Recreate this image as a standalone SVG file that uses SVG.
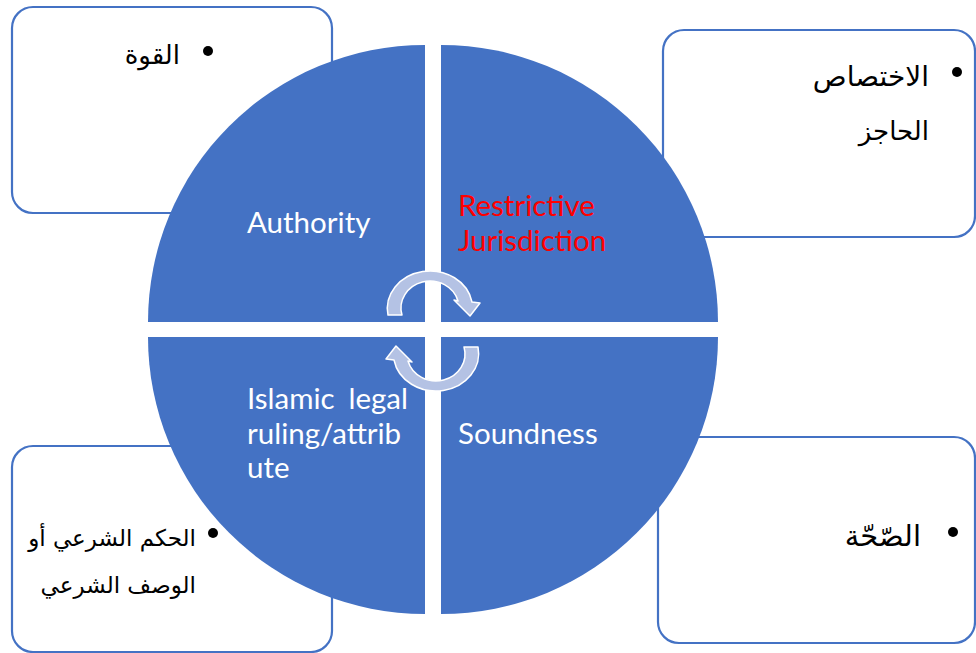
<svg xmlns="http://www.w3.org/2000/svg" width="976" height="653" viewBox="0 0 976 653">
<style>
.box{fill:#ffffff;stroke:#4472C4;stroke-width:2.2}
.quad{fill:#4472C4}
.en{font-family:Lato,"Liberation Sans",sans-serif;font-size:29.5px;fill:#ffffff}
.ar{font-family:"DejaVu Sans","Noto Sans",sans-serif;font-size:26px;fill:#000000}
.ar2{font-family:"DejaVu Sans","Noto Sans",sans-serif;font-size:23px;fill:#000000}
.arrow{fill:#B4C2E4;stroke:#ffffff;stroke-width:1.5;stroke-linejoin:round}
</style>
<rect width="976" height="653" fill="#ffffff"/>
<g id="box-tl"><rect class="box" x="12" y="7" width="320" height="206" rx="21"/><circle cx="208" cy="51" r="5"/><text class="ar" x="180" y="64" text-anchor="end">القوة</text></g>
<g id="box-tr"><rect class="box" x="663" y="30" width="312" height="207" rx="21"/><circle cx="957" cy="72" r="5"/><text class="ar" x="929" y="86" text-anchor="end" style="font-size:28px">الاختصاص</text><text class="ar" x="929" y="140" text-anchor="end">الحاجز</text></g>
<g id="box-bl"><rect class="box" x="12" y="446" width="320" height="206" rx="21"/><circle cx="213" cy="533" r="5"/><text class="ar2" x="196" y="546" text-anchor="end">الحكم الشرعي أو</text><text class="ar2" x="196" y="593" text-anchor="end">الوصف الشرعي</text></g>
<g id="box-br"><rect class="box" x="658" y="437" width="317" height="206" rx="21"/><circle cx="953" cy="532" r="5"/><text class="ar" x="921" y="546" text-anchor="end" style="font-size:29px">الصّحّة</text></g>
<g id="quad-tl"><path class="quad" d="M425,322 L148,322 A277,277 0 0 1 425,45 Z"/><text class="en" x="247" y="233">Authority</text></g>
<g id="quad-tr"><path class="quad" d="M441,322 L441,45 A277,277 0 0 1 718,322 Z"/><text class="en" x="458" y="216" style="fill:#FF0000">Restrictive</text><text class="en" x="458" y="251" style="fill:#FF0000">Jurisdiction</text></g>
<g id="quad-br"><path class="quad" d="M441,337 L718,337 A277,277 0 0 1 441,614 Z"/><text class="en" x="458" y="444">Soundness</text></g>
<g id="quad-bl"><path class="quad" d="M425,337 L425,614 A277,277 0 0 1 148,337 Z"/><text class="en" x="247" y="409">Islamic</text><text class="en" x="408" y="409" text-anchor="end">legal</text><text class="en" x="247" y="444">ruling/attrib</text><text class="en" x="247" y="478">ute</text></g>
<g id="connectors">
<path class="arrow" d="M388,315 A42,37 0 0 1 472,302 L480,303 L470,316 L454,300 L458,301 A28,26 0 0 0 402,315 Z"/>
<path class="arrow" d="M388,315 A42,37 0 0 1 472,302 L480,303 L470,316 L454,300 L458,301 A28,26 0 0 0 402,315 Z" transform="rotate(180 433 331)"/>
</g>
</svg>
